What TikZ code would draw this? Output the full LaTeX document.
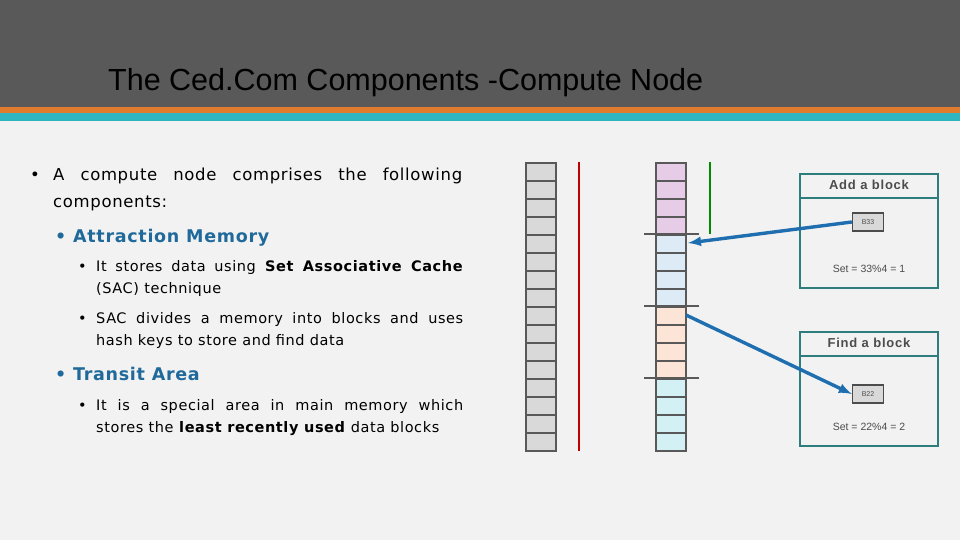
\documentclass[tikz,border=0pt]{standalone}
\usepackage{fontspec}
\setmainfont[LetterSpace=4]{DejaVu Sans}
\newfontfamily\tfont{Liberation Sans}
\newfontfamily\lsfont[LetterSpace=6]{Liberation Sans}
\definecolor{hdr}{HTML}{595959}
\definecolor{bg}{HTML}{F2F2F2}
\definecolor{tealc}{HTML}{2FB5C0}
\definecolor{orng}{HTML}{E07B2E}
\definecolor{hblue}{HTML}{1F6A9A}
\definecolor{abl}{HTML}{1F6FB0}
\definecolor{bx}{HTML}{2E7D7D}
\definecolor{cg}{HTML}{D9D9D9}
\definecolor{cp}{HTML}{E6CCE6}
\definecolor{cb}{HTML}{DDEBF7}
\definecolor{co}{HTML}{FCE4D6}
\definecolor{cc}{HTML}{D3F1F5}
\newcommand{\jl}[2]{\makebox[#1][s]{#2}}
\begin{document}
\begin{tikzpicture}[x=1pt,y=-1pt,
 cell/.style={draw=black!65,line width=1.2pt},
 ln/.style={anchor=base west,inner sep=0pt,font=\fontsize{16.5}{20}\selectfont},
 lns/.style={anchor=base west,inner sep=0pt,font=\fontsize{14.5}{20}\selectfont},
 hd/.style={anchor=base west,inner sep=0pt,text=hblue,font=\bfseries\fontsize{17.5}{20}\selectfont},
 sm/.style={font=\tfont\fontsize{10.5}{12}\selectfont,text=black!70},
 bh/.style={font=\lsfont\bfseries\fontsize{13}{14}\selectfont,text=black!70},
 bk/.style={draw=black!70,line width=1.3pt,fill=cg,minimum width=31pt,minimum height=18pt,inner sep=0pt,font=\tfont\fontsize{7}{8}\selectfont,text=black!70},
 box/.style={draw=bx,line width=1.2pt},
 arr/.style={draw=abl,line width=3.4pt,-latex}]
\useasboundingbox (0,0) rectangle (960,540);
\fill[bg] (0,0) rectangle (960,540);
\fill[hdr] (0,0) rectangle (960,107);
\fill[orng] (0,107) rectangle (960,113);
\fill[tealc] (0,113) rectangle (960,121);
\node[anchor=base west,inner sep=0pt,text=black,font=\tfont\fontsize{30.5}{32}\selectfont] (title) at (108,91) {The Ced.Com Components -Compute Node};
% text
\node[ln] (b1) at (30,181) {•};
\node[ln] (t1a) at (53,181) {\jl{409pt}{A compute node comprises the following}};
\node[ln] (t1b) at (53,207) {components:};
\node[hd] (t2) at (55,242) {• Attraction Memory};
\node[lns] (b3) at (78,271) {•};
\node[lns] (t3a) at (96,271) {\jl{367pt}{It stores data using \textbf{Set Associative Cache}}};
\node[lns] (t3b) at (96,293) {(SAC) technique};
\node[lns] (b4) at (78,323) {•};
\node[lns] (t4a) at (96,323) {\jl{367pt}{SAC divides a memory into blocks and uses}};
\node[lns] (t4b) at (96,345) {hash keys to store and find data};
\node[hd] (t5) at (55,380) {• Transit Area};
\node[lns] (b6) at (78,410) {•};
\node[lns] (t6a) at (96,410) {\jl{367pt}{It is a special area in main memory which}};
\node[lns] (t6b) at (96,432) {stores the \textbf{least recently used} data blocks};
% columns
\foreach \i in {0,...,15}{
  \draw[cell,fill=cg] (526,163+18*\i) rectangle (556,181+18*\i);
}
\foreach \i/\c in {0/cp,1/cp,2/cp,3/cp,4/cb,5/cb,6/cb,7/cb,8/co,9/co,10/co,11/co,12/cc,13/cc,14/cc,15/cc}{
  \draw[cell,fill=\c] (656,163+18*\i) rectangle (686,181+18*\i);
}
\foreach \y in {234,306,378}{\draw[black!65,line width=1.3pt] (644,\y) -- (699,\y);}
\draw[red!75!black,line width=1.3pt] (579,162) -- (579,451);
\draw[green!55!black,line width=1.2pt] (710,162) -- (710,234);
\coordinate (tgt1) at (688,243);
\coordinate (src2) at (686,315);
% boxes
\draw[box] (800,174) rectangle (938,288);
\draw[box] (800,198) -- (938,198);
\node[bh] (ha) at (869,185) {Add a block};
\node[bk] (b33) at (868,222) {B33};
\node[sm] (s1) at (869,269) {Set = 33\%4 = 1};
\draw[box] (800,332) rectangle (938,446);
\draw[box] (800,356) -- (938,356);
\node[bh] (hf) at (869,343) {Find a block};
\node[bk] (b22) at (868,394) {B22};
\node[sm] (s2) at (869,427) {Set = 22\%4 = 2};
\draw[arr] (b33.west) -- (tgt1);
\draw[arr] (src2) -- (b22.west);
\end{tikzpicture}
\end{document}
